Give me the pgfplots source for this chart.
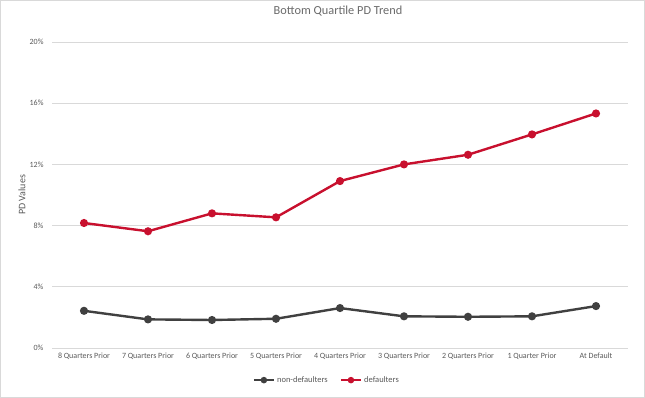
\documentclass[border=0pt]{standalone}
\usepackage{pgfplots}
\pgfplotsset{compat=1.18}
\usepackage{fontspec}
\setmainfont{Carlito}
\definecolor{txt}{HTML}{595959}
\definecolor{grd}{HTML}{D9D9D9}
\definecolor{redl}{HTML}{C8102E}
\definecolor{grayl}{HTML}{404040}
\begin{document}
\begin{tikzpicture}
\useasboundingbox (0,0) rectangle (645pt,398pt);
\draw[grd, line width=1pt] (0.5pt,0.5pt) rectangle (644.5pt,397.5pt);
\begin{axis}[
  at={(52pt,50pt)}, anchor=south west,
  scale only axis, width=576pt, height=306pt,
  xmin=-0.5, xmax=8.5, ymin=0, ymax=20,
  axis line style={draw=none},
  tick style={draw=none},
  ymajorgrids, grid style={grd, line width=0.9pt},
  ytick={0,4,8,12,16,20},
  yticklabels={0\%,4\%,8\%,12\%,16\%,20\%},
  xtick={0,...,8},
  xticklabels={8 Quarters Prior,7 Quarters Prior,6 Quarters Prior,5 Quarters Prior,4 Quarters Prior,3 Quarters Prior,2 Quarters Prior,1 Quarter Prior,At Default},
  ticklabel style={font=\fontsize{8}{9}\selectfont, text=txt},
  yticklabel style={xshift=-5pt},
  xticklabel style={yshift=-1pt},
  ylabel={PD Values},
  ylabel style={font=\fontsize{10}{11}\selectfont, text=txt, at={(rel axis cs:-0.052,0.5)}, anchor=center, rotate=0},
  title={Bottom Quartile PD Trend},
  title style={font=\fontsize{12.3}{14}\selectfont, text=txt!90, at={(rel axis cs:0.4965,1.0817)}, anchor=center},
  legend style={draw=none, fill=none, at={(rel axis cs:0.477,-0.105)}, anchor=center, font=\fontsize{8.5}{10}\selectfont, text=txt, legend columns=2, /tikz/every even column/.append style={column sep=10pt}},
  legend image code/.code={\draw[#1, mark size=2pt] (0pt,0pt) -- (20pt,0pt); \draw[#1, mark size=2pt] plot coordinates {(10pt,0pt)};},
]
\addplot[grayl, line width=2.4pt, mark=*, mark size=2.8pt, mark options={solid}] coordinates {
(0,2.43) (1,1.87) (2,1.83) (3,1.91) (4,2.61) (5,2.07) (6,2.04) (7,2.07) (8,2.74)};
\addlegendentry{non-defaulters}
\addplot[redl, line width=2.4pt, mark=*, mark size=2.8pt, mark options={solid}] coordinates {
(0,8.17) (1,7.63) (2,8.80) (3,8.54) (4,10.91) (5,12.00) (6,12.63) (7,13.96) (8,15.33)};
\addlegendentry{defaulters}
\end{axis}
\end{tikzpicture}
\end{document}
